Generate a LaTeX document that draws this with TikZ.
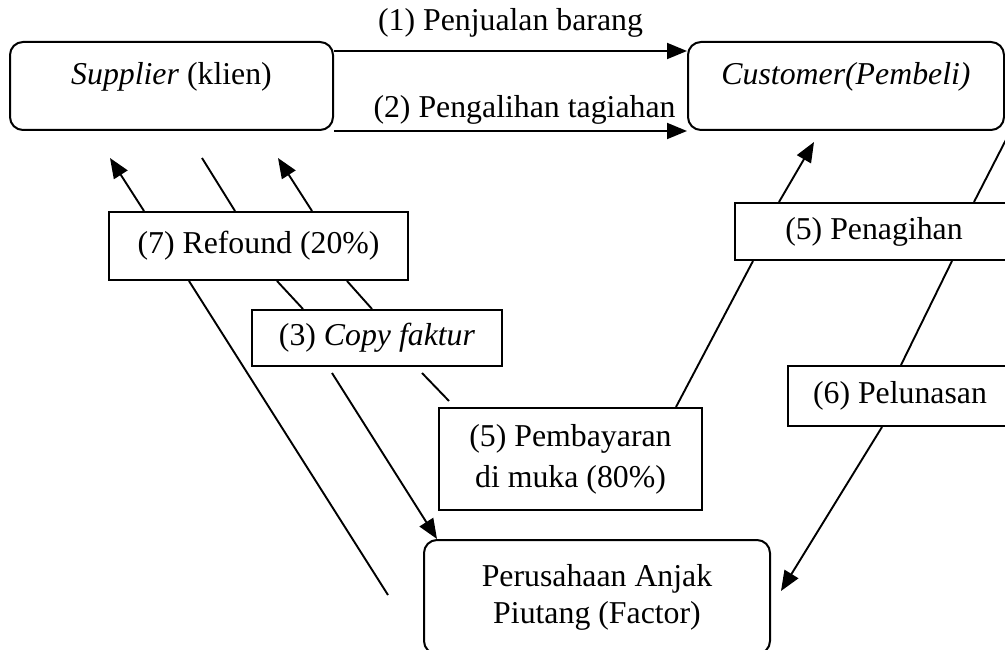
\documentclass[tikz,border=0pt]{standalone}
\usepackage{fontspec}
\setmainfont{Liberation Serif}
\usetikzlibrary{arrows.meta,calc,positioning}

\begin{document}
\begin{tikzpicture}[x=1pt,y=-1pt,
  every node/.style={font=\fontsize{31.8}{37}\selectfont},
  party/.style={draw,line width=2pt,rounded corners=13pt,inner xsep=0pt,inner ysep=0pt},
  flowbox/.style={draw,line width=2pt,inner sep=0pt},
  link/.style={line width=1.9pt},
  flow/.style={line width=1.9pt,-{Triangle[length=20pt,width=16pt]}},
  lbl/.style={anchor=base,inner sep=0pt}]
\useasboundingbox (0,0) rectangle (1005,650);
\clip (0,0) rectangle (1005,650);
\node[party,minimum width=323pt,text height=43pt,text depth=45pt] (sup) at (171.5,86) {\textit{Supplier} (klien)};
\node[party,minimum width=316pt,text height=43pt,text depth=45pt] (cus) at (846,86) {\textit{Customer(Pembeli)}};
\node[party,minimum width=346pt,minimum height=114pt,align=center] (fac) at (597,597) {Perusahaan Anjak\\Piutang (Factor)};
\node[flowbox,minimum width=299pt,minimum height=68pt] (ref) at (258.5,246) {(7) Refound (20\%)};
\node[flowbox,minimum width=250pt,minimum height=56pt] (cop) at (377,338) {(3) \textit{Copy faktur}};
\node[flowbox,minimum width=263pt,minimum height=102pt,align=center,font=\fontsize{31.8}{41}\selectfont] (pem) at (570.5,459) {(5) Pembayaran\\di muka (80\%)};
\node[flowbox,minimum width=278pt,minimum height=57pt] (pen) at (874,231.5) {(5) Penagihan};
\node[flowbox,minimum width=224pt,minimum height=60pt] (pel) at (900,396) {(6) Pelunasan};
\coordinate (r1) at (110,158);
\coordinate (r2) at (202,158);
\coordinate (r3) at (278,158);
\coordinate (r4) at (388,595);
\coordinate (c5) at (1012,128);
\draw[flow] ([yshift=-10pt]sup.north east) -- node[lbl,yshift=20pt]{(1) Penjualan barang} ([yshift=-10pt]cus.north west);
\draw[flow] (sup.south east) -- node[lbl,xshift=14pt,yshift=13pt]{(2) Pengalihan tagiahan} (cus.south west);
\draw[flow] ([xshift=36pt]ref.north west) -- (r1);
\draw[link] ([xshift=127pt]ref.north west) -- (r2);
\draw[flow] ([xshift=204pt]ref.north west) -- (r3);
\draw[link] ([xshift=81pt]ref.south west) -- (r4);
\draw[link] ([xshift=169pt]ref.south west) -- ([xshift=52pt]cop.north west);
\draw[link] ([xshift=239pt]ref.south west) -- ([xshift=121pt]cop.north west);
\draw[flow] ([xshift=81pt,yshift=-6pt]cop.south west) -- ([xshift=14pt]fac.north west);
\draw[link] ([xshift=171pt,yshift=-6pt]cop.south west) -- ([xshift=11pt,yshift=6pt]pem.north west);
\draw[link] ([xshift=238pt]pem.north west) -- ([xshift=19pt]pen.south west);
\draw[flow] ([xshift=45pt]pen.north west) -- ([xshift=127pt,yshift=-11pt]cus.south west);
\draw[link] ([xshift=240pt]pen.north west) -- (c5);
\draw[link] ([xshift=218pt]pen.south west) -- ([xshift=114pt]pel.north west);
\draw[flow] ([xshift=95pt]pel.south west) -- ([xshift=10pt,yshift=-52pt]fac.north east);
\end{tikzpicture}
\end{document}
